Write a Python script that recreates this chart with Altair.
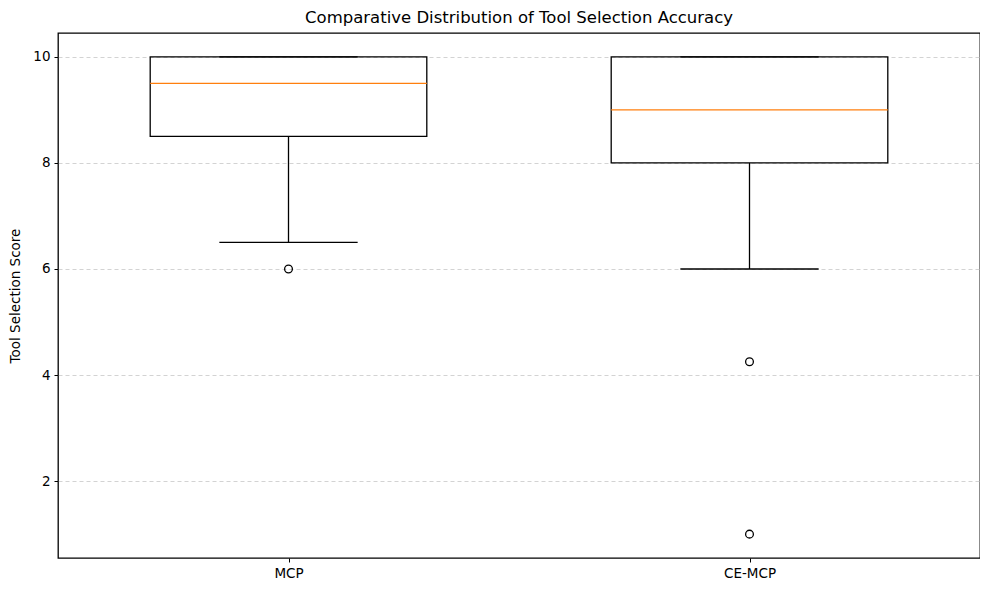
import altair as alt
import pandas as pd

categories = ["MCP", "CE-MCP"]
positions = [1, 2]
q1 = [8.5, 8.0]
median = [9.5, 9.0]
q3 = [10.0, 10.0]
whisker_lo = [6.5, 6.0]
whisker_hi = [10.0, 10.0]

outlier_pos = [1, 2, 2]
outlier_val = [6.0, 4.25, 1.0]

stats = pd.DataFrame({
    "cat": categories, "pos": positions, "q1": q1, "median": median,
    "q3": q3, "lo": whisker_lo, "hi": whisker_hi,
})
outs = pd.DataFrame({"pos": outlier_pos, "val": outlier_val})

FONT = "DejaVu Sans"
FS = 13.5
xscale = alt.Scale(domain=[0.5, 2.5], nice=False, zero=False)
yscale = alt.Scale(domain=[0.55, 10.45], nice=False, zero=False)

xaxis = alt.Axis(values=[1, 2], labelExpr="datum.value == 1 ? 'MCP' : 'CE-MCP'",
                 title=None, grid=False, tickColor="black", domain=False,
                 labelColor="black", labelFont=FONT, labelFontSize=FS, tickSize=4,
                 labelPadding=4)
yaxis = alt.Axis(values=[2, 4, 6, 8, 10], title="Tool Selection Score", grid=True,
                 gridDash=[4, 3], gridColor="#c8c8c8", gridWidth=0.8,
                 tickColor="black", domain=False, labelColor="black",
                 labelFont=FONT, labelFontSize=FS, tickSize=4, labelPadding=4,
                 titleFont=FONT, titleFontSize=FS, titleFontWeight="normal",
                 titleColor="black", titlePadding=10)

base = alt.Chart(stats).transform_calculate(
    left="datum.pos - 0.3", right="datum.pos + 0.3",
    capl="datum.pos - 0.15", capr="datum.pos + 0.15",
)

grid_layer = base.mark_point(opacity=0).encode(
    x=alt.X("pos:Q", scale=xscale, axis=xaxis),
    y=alt.Y("median:Q", scale=yscale, axis=yaxis),
)

whisk_lo = base.mark_rule(color="black", strokeWidth=1.3).encode(
    x="pos:Q", y="lo:Q", y2="q1:Q")
whisk_hi = base.mark_rule(color="black", strokeWidth=1.3).encode(
    x="pos:Q", y="q3:Q", y2="hi:Q")
cap_lo = base.mark_rule(color="black", strokeWidth=1.3).encode(
    x="capl:Q", x2="capr:Q", y="lo:Q")
cap_hi = base.mark_rule(color="black", strokeWidth=1.3).encode(
    x="capl:Q", x2="capr:Q", y="hi:Q")
box = base.mark_rect(fill="white", fillOpacity=0, stroke="black", strokeWidth=1.3).encode(
    x="left:Q", x2="right:Q", y="q1:Q", y2="q3:Q")
med = base.mark_rule(color="#ff7f0e", strokeWidth=1.2).encode(
    x="left:Q", x2="right:Q", y="median:Q")

pts = alt.Chart(outs).mark_point(shape="circle", filled=False, color="black",
                                 strokeWidth=1.3, size=60, opacity=1).encode(
    x="pos:Q", y="val:Q")

chart = alt.layer(grid_layer, whisk_lo, whisk_hi, cap_lo, cap_hi, box, med, pts).properties(
    width=922, height=525,
    title=alt.TitleParams("Comparative Distribution of Tool Selection Accuracy",
                          font=FONT, fontSize=16.5, fontWeight="normal", color="black",
                          offset=7),
    padding={"left": 0, "top": 1, "right": 0, "bottom": 0},
    background="white",
).configure_view(stroke="black", strokeWidth=1.3)

chart.save("out.html", embed_options={"renderer": "svg", "actions": False})
